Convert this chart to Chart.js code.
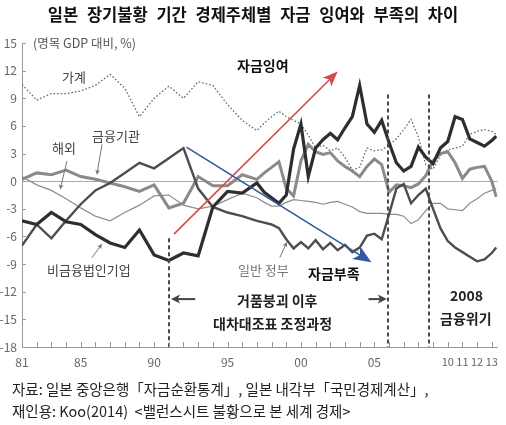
<!DOCTYPE html>
<html><head><meta charset="utf-8">
<script src="https://cdn.jsdelivr.net/npm/chart.js@4.4.1/dist/chart.umd.min.js"></script>
<style>
html,body{margin:0;padding:0;background:#fff;}
#wrap{position:relative;width:506px;height:425px;overflow:hidden;font-family:"Noto Sans CJK KR","Noto Sans",sans-serif;}
#c{position:absolute;left:0;top:0;}
.t{position:absolute;white-space:nowrap;line-height:1;}
</style></head><body>
<div id="wrap">
<canvas id="c" width="506" height="425"></canvas>
<div class="t" style="left:0;width:506px;text-align:center;top:6px;font-size:16.5px;font-weight:bold;color:#111;word-spacing:5px;">일본 장기불황 기간 경제주체별 자금 잉여와 부족의 차이</div>
<div class="t" style="left:33px;top:37px;font-size:12.5px;color:#555;">(명목 GDP 대비, %)</div>
<div class="t" style="left:62px;top:70px;font-size:13px;color:#444;">가계</div>
<div class="t" style="left:92px;top:129px;font-size:13px;color:#444;">금융기관</div>
<div class="t" style="left:52px;top:141px;font-size:13px;color:#444;">해외</div>
<div class="t" style="left:47px;top:263px;font-size:13px;color:#444;">비금융법인기업</div>
<div class="t" style="left:238px;top:263px;font-size:13px;color:#777;">일반 정부</div>
<div class="t" style="left:308px;top:266px;font-size:14px;font-weight:bold;color:#111;">자금부족</div>
<div class="t" style="left:237px;top:58px;font-size:14px;font-weight:bold;color:#111;">자금잉여</div>
<div class="t" style="left:237px;top:293px;font-size:14px;font-weight:bold;color:#222;">거품붕괴 이후</div>
<div class="t" style="left:213px;top:316px;font-size:14px;font-weight:bold;color:#222;">대차대조표 조정과정</div>
<div class="t" style="left:450px;top:288px;font-size:14px;font-weight:bold;color:#222;">2008</div>
<div class="t" style="left:440px;top:311px;font-size:14px;font-weight:bold;color:#222;">금융위기</div>
<div class="t" style="left:12px;top:382px;font-size:14.5px;color:#222;">자료: 일본 중앙은행「자금순환통계」, 일본 내각부「국민경제계산」,</div>
<div class="t" style="left:12px;top:404px;font-size:14.5px;color:#222;">재인용: Koo(2014) &nbsp;&lt;밸런스시트 불황으로 본 세계 경제&gt;</div>
</div>
<script>
// ---- data (share of nominal GDP, %) ----
const years = [1981,1982,1983,1984,1985,1986,1987,1988,1989,1990,1991,1992,1993,1994,1995,1996,1997,
  1997.5,1998,1998.5,1999,1999.5,2000,2000.5,2001,2001.5,2002,2002.5,2003,2003.5,2004,2004.5,2005,2005.5,
  2006,2006.5,2007,2007.5,2008,2008.5,2009,2009.5,2010,2010.5,2011,2011.5,2012,2012.5,2013,2013.3];
const households = [10.5,8.8,9.5,9.5,9.8,10.4,11.6,10.1,7.0,9.0,10.3,9.0,10.8,10.4,8.3,6.6,5.5,
  6.3,7.0,7.6,7.0,6.6,6.2,5.0,3.6,3.9,3.3,3.6,2.6,1.2,1.5,3.6,3.3,3.4,
  3.9,4.6,5.6,6.7,4.8,1.8,1.3,2.8,3.4,3.6,3.8,5.1,5.4,5.6,5.4,5.1];
const financial = [0.2,0.9,0.7,1.2,0.5,0.2,-0.2,-0.6,-1.1,-0.4,-2.9,-2.4,0.5,-0.5,-0.5,0.7,0.2,
  0.9,1.5,2.1,-0.8,-1.6,2.2,4.0,3.2,2.9,3.1,2.2,1.6,1.1,0.5,1.6,2.4,1.8,
  -1.2,-0.4,-0.5,-0.7,-0.3,0.6,2.2,3.0,3.2,2.0,0.3,1.3,1.5,1.6,0.0,-1.7];
const overseas = [0.5,-0.4,-1.0,-1.9,-2.9,-3.8,-4.3,-3.4,-2.6,-1.6,-1.5,-2.6,-3.0,-2.7,-2.0,-1.3,-1.8,
  -2.3,-2.7,-2.7,-2.3,-2.0,-2.1,-2.2,-2.3,-2.5,-2.3,-2.2,-2.5,-2.8,-3.3,-3.5,-3.5,-3.5,
  -3.6,-3.6,-3.8,-4.6,-4.2,-3.2,-2.4,-2.4,-3.0,-3.1,-3.2,-2.4,-1.9,-1.3,-1.0,-0.8];
const corporations = [-4.3,-4.7,-3.4,-4.4,-4.7,-5.8,-6.7,-7.2,-5.3,-8.0,-8.6,-7.8,-8.1,-2.8,-1.1,-1.3,-0.2,
  -1.2,-1.8,-2.4,-1.5,3.5,6.2,0.5,3.6,4.5,5.2,4.5,5.8,7.0,10.4,6.2,5.3,6.6,
  4.2,2.0,1.1,1.6,3.7,2.6,1.9,3.6,4.3,7.0,6.7,4.6,4.2,3.8,4.4,4.9];
const government = [-7.0,-4.7,-6.2,-4.3,-2.5,-1.0,-0.2,0.9,2.0,1.4,2.5,3.6,-0.8,-2.8,-3.4,-3.8,-4.3,
  -4.5,-4.7,-5.1,-6.3,-7.3,-6.6,-7.3,-6.4,-7.4,-6.7,-7.5,-6.9,-7.7,-7.2,-5.9,-5.7,-6.3,
  -3.6,-0.8,-0.3,-2.4,-1.5,-0.8,-3.0,-5.1,-6.5,-7.2,-7.7,-8.2,-8.7,-8.5,-7.8,-7.2];
const yTicks = [-18,-15,-12,-9,-6,-3,0,3,6,9,12,15];
const xTickYears = Array.from({length:33},(_, i)=>1981+i);
const xLabels = {1981:'81',1985:'85',1990:'90',1995:'95',2000:'00',2005:'05',2010:'10',2011:'11',2012:'12',2013:'13'};

// annotation anchors in data units [year, value]
const periodMarks = [[1991,-6.2],[2005.9,9.4],[2008.7,9.4]];
const surplusArrow = [[1991.35,-5.75],[2002.5,11.9]];
const deficitArrow = [[1992.2,3.7],[2004.8,-8.8]];
const spanArrows = [[[1992.8,-12.8],[1991.15,-12.8]],[[2004.6,-12.8],[2005.85,-12.8]]];
const leaders = [[[1986.45,4.0],[1986.1,0.7]],[[1984.06,2.2],[1983.6,-0.9]],[[1985.77,-8.3],[1986.45,-6.8]],[[1998.56,-8.3],[1999.04,-6.6]]];

const pts = arr => years.map((yr,i)=>({x:yr,y:arr[i]}));

function arrow(ctx, p0, p1, color, lw, L, W){
  const ang = Math.atan2(p1[1]-p0[1], p1[0]-p0[0]);
  const bx = p1[0]-L*Math.cos(ang), by = p1[1]-L*Math.sin(ang);
  ctx.strokeStyle=color; ctx.fillStyle=color; ctx.lineWidth=lw; ctx.setLineDash([]);
  ctx.beginPath(); ctx.moveTo(p0[0],p0[1]); ctx.lineTo(bx+0.3*L*Math.cos(ang),by+0.3*L*Math.sin(ang)); ctx.stroke();
  ctx.beginPath(); ctx.moveTo(p1[0],p1[1]);
  ctx.lineTo(bx+W*Math.sin(ang), by-W*Math.cos(ang));
  ctx.lineTo(bx+0.25*L*Math.cos(ang), by+0.25*L*Math.sin(ang));
  ctx.lineTo(bx-W*Math.sin(ang), by+W*Math.cos(ang));
  ctx.closePath(); ctx.fill();
}

const decor = {
  id:'decor',
  beforeDatasetsDraw(chart){
    const {ctx, chartArea:a, scales:{x,y}} = chart;
    ctx.save();
    ctx.strokeStyle='#a9a9a9'; ctx.lineWidth=1;
    const y0 = Math.round(y.getPixelForValue(0))+0.5;
    ctx.beginPath(); ctx.moveTo(a.left,y0); ctx.lineTo(a.right,y0); ctx.stroke();
    ctx.restore();
  },
  afterDatasetsDraw(chart){
    const {ctx, chartArea:a, scales:{x,y}} = chart;
    const P = d => [x.getPixelForValue(d[0]), y.getPixelForValue(d[1])];
    ctx.save();
    ctx.strokeStyle='#4a4a4a'; ctx.lineWidth=2; ctx.setLineDash([4,3]);
    periodMarks.forEach(m=>{
      const px = Math.round(x.getPixelForValue(m[0]));
      ctx.beginPath(); ctx.moveTo(px, y.getPixelForValue(m[1])); ctx.lineTo(px, a.bottom); ctx.stroke();
    });
    ctx.setLineDash([]);
    arrow(ctx, P(surplusArrow[0]), P(surplusArrow[1]), '#d44a4a', 1.6, 15, 6);
    arrow(ctx, P(deficitArrow[0]), P(deficitArrow[1]), '#2c5b9f', 1.6, 18, 7.5);
    spanArrows.forEach(s=>arrow(ctx, P(s[0]), P(s[1]), '#444', 2, 9, 4.5));
    leaders.forEach(s=>arrow(ctx, P(s[0]), P(s[1]), '#777', 1, 5, 2.5));
    ctx.restore();
  },
  afterDraw(chart){
    const {ctx, chartArea:a, scales:{x,y}} = chart;
    ctx.save();
    ctx.strokeStyle='#999'; ctx.lineWidth=1;
    xTickYears.forEach(v=>{
      const px = Math.round(x.getPixelForValue(v))+0.5;
      ctx.beginPath(); ctx.moveTo(px,a.bottom); ctx.lineTo(px,a.bottom-5); ctx.stroke();
    });
    yTicks.forEach(v=>{
      const py = Math.round(y.getPixelForValue(v))+0.5;
      ctx.beginPath(); ctx.moveTo(a.left,py); ctx.lineTo(a.left+4,py); ctx.stroke();
    });
    ctx.restore();
  }
};

const fam = '"Noto Sans CJK KR", "Noto Sans", sans-serif';
new Chart(document.getElementById('c'), {
  type:'line',
  data:{datasets:[
    {label:'비금융법인기업', data:pts(corporations), borderColor:'#2e2e2e', borderWidth:3.2},
    {label:'일반 정부', data:pts(government), borderColor:'#4d4d4d', borderWidth:2.4},
    {label:'금융기관', data:pts(financial), borderColor:'#8a8a8a', borderWidth:3},
    {label:'해외', data:pts(overseas), borderColor:'#8c8c8c', borderWidth:1.2},
    {label:'가계', data:pts(households), borderColor:'#6a6a6a', borderWidth:1.3, borderDash:[1.6,2]}
  ].map(d=>Object.assign(d,{pointRadius:0, tension:0, fill:false}))},
  options:{
    responsive:false, animation:false, events:[],
    layout:{padding:{top:43,right:8,bottom:54,left:0}},
    plugins:{legend:{display:false}, tooltip:{enabled:false}},
    scales:{
      x:{type:'linear', min:1981, max:2013.4,
        afterBuildTicks:s=>{s.ticks = xTickYears.map(v=>({value:v}));},
        afterFit:s=>{s.height=24;},
        ticks:{autoSkip:false, maxRotation:0, minRotation:0, padding:8, color:'#666',
          font:c=>({family:fam, size:(c.tick && c.tick.value>=2010) ? 11 : 12}),
          callback:v=>xLabels[v] ?? ''},
        grid:{display:false, drawTicks:false}, border:{display:true, color:'#999', width:1}},
      y:{type:'linear', min:-18, max:15,
        afterBuildTicks:s=>{s.ticks = yTicks.map(v=>({value:v}));},
        afterFit:s=>{s.width=22;},
        ticks:{padding:5, color:'#666', font:{family:fam, size:12}},
        grid:{display:false, drawTicks:false}, border:{display:true, color:'#999', width:1}}
    }
  },
  plugins:[decor]
});
</script>
</body></html>
